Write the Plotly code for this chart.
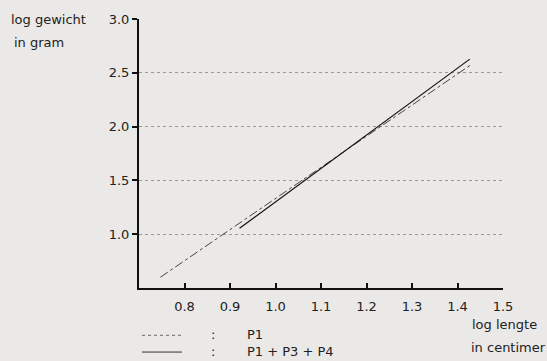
import plotly.graph_objects as go

# Data
p1_x = [0.747, 1.429]
p1_y = [0.60, 2.573]
p134_x = [0.921, 1.427]
p134_y = [1.055, 2.627]

x_ticks = [0.8, 0.9, 1.0, 1.1, 1.2, 1.3, 1.4, 1.5]
x_ticklabels = ["0.8", "0.9", "1.0", "1.1", "1.2", "1.3", "1.4", "1.5"]
y_ticks = [1.0, 1.5, 2.0, 2.5, 3.0]
y_ticklabels = ["1.0", "1.5", "2.0", "2.5", "3.0"]

W, H = 547, 361
L, R, T, B = 139, 44, 15, 73
PW, PH = W - L - R, H - T - B

bg = "#eae9e7"
font = dict(family="DejaVu Sans, sans-serif", size=13, color="#222")

fig = go.Figure()
fig.add_trace(go.Scatter(x=p1_x, y=p1_y, mode="lines",
                         line=dict(color="#444", width=1, dash="dashdot"),
                         showlegend=False, hoverinfo="skip"))
fig.add_trace(go.Scatter(x=p134_x, y=p134_y, mode="lines",
                         line=dict(color="#111", width=1.2),
                         showlegend=False, hoverinfo="skip"))

fig.update_layout(
    width=W, height=H,
    margin=dict(l=L, r=R, t=T, b=B),
    paper_bgcolor=bg, plot_bgcolor=bg,
    font=font,
    showlegend=False,
)
fig.update_xaxes(range=[0.7, 1.5], tickvals=x_ticks, ticktext=x_ticklabels,
                 showgrid=False, zeroline=False,
                 showline=True, linecolor="#111", linewidth=2,
                 ticks="inside", ticklen=5, tickcolor="#111", tickwidth=1.5,
                 ticklabelstandoff=5,
                 tickfont=font)
fig.update_yaxes(range=[0.5, 3.0], tickvals=y_ticks, ticktext=y_ticklabels,
                 showgrid=True, gridcolor="#999", griddash="dot", gridwidth=1,
                 zeroline=False,
                 showline=True, linecolor="#111", linewidth=2,
                 ticks="outside", ticklen=5, tickcolor="#111", tickwidth=1.5,
                 tickfont=font)

def px2paper(px, py):
    return (px - L) / PW, (H - B - py) / PH

def ann(text, px, py):
    x, y = px2paper(px, py)
    fig.add_annotation(text=text, x=x, y=y, xref="paper", yref="paper",
                       xanchor="left", yanchor="middle", showarrow=False, font=font)

def hline(px0, px1, py, dash, color):
    x0, y0 = px2paper(px0, py)
    x1, _ = px2paper(px1, py)
    fig.add_shape(type="line", xref="paper", yref="paper",
                  x0=x0, x1=x1, y0=y0, y1=y0,
                  line=dict(color=color, width=1, dash=dash))

# Axis titles
ann("log gewicht", 9, 16)
ann("in gram", 12, 39)
ann("log lengte", 470, 325)
ann("in centimer", 469, 348)

# Legend (drawn by hand, as in the reference)
ann(":", 209, 335)
ann("P1", 245, 335)
ann(":", 209, 352)
ann("P1 + P3 + P4", 245, 352)
hline(142, 182, 336, "dot", "#666")
hline(142, 182, 353, "solid", "#333")

fig.write_html("out.html")
